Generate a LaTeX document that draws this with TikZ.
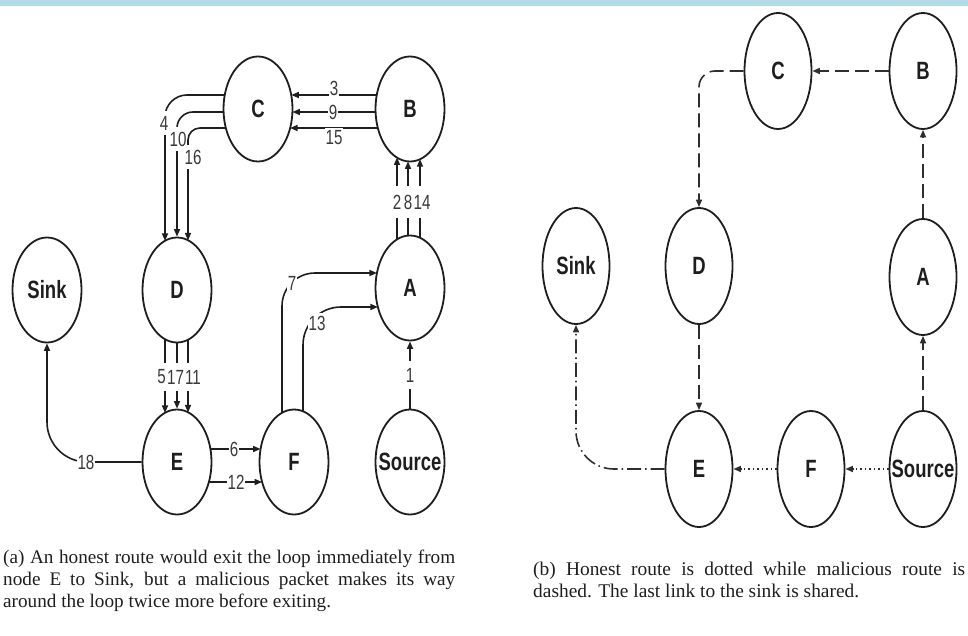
\documentclass[tikz,border=0pt]{standalone}
\usepackage{fontspec}
\setmainfont{Liberation Serif}
\newfontfamily\lblfont[FakeStretch=0.74]{Liberation Sans}
\usetikzlibrary{shapes.geometric,arrows.meta,calc}
\definecolor{band}{HTML}{B4DCE6}
\definecolor{ink}{HTML}{1E1E1E}
\definecolor{numink}{HTML}{3A3A3A}
\definecolor{rink}{HTML}{2E2E2E}
\newcommand\ctr[1]{\makebox[0pt]{#1}}

\begin{document}
\begin{tikzpicture}[x=1pt,y=-1pt,
  every node/.style={inner sep=0pt},
  nodeA/.style={ellipse, draw=ink, line width=1.8pt, minimum width=69pt,
    minimum height=105pt, text=ink, font=\lblfont\bfseries\fontsize{25}{25}\selectfont},
  nodeB/.style={nodeA, minimum width=67pt, minimum height=116pt},
  link/.style={draw=ink, line width=1.6pt, -{Triangle[length=7.5pt,width=6pt]}},
  num/.style={fill=white, text=numink, inner xsep=1pt, inner ysep=3pt,
    font=\lblfont\fontsize{20.5}{20.5}\selectfont},
  vnum/.style={num, inner ysep=7pt},
  mal/.style={link, draw=rink, dash pattern=on 14pt off 6pt},
  hon/.style={link, draw=rink, dash pattern=on 1.5pt off 3pt},
  shared/.style={link, draw=rink, dash pattern=on 14pt off 4pt on 1.5pt off 4pt},
]
\useasboundingbox (0,0) rectangle (968,636);
\fill[band] (0,0) rectangle (968,6);

% ---------- (a) packet loop with hop numbers ----------
\node[nodeA] (lsink) at (47,290) {\ctr{Sink}};
\node[nodeA] (ld) at (177,290) {\ctr{D}};
\node[nodeA] (lc) at (258,109) {\ctr{C}};
\node[nodeA] (lb) at (410,109) {\ctr{B}};
\node[nodeA] (la) at (410,288) {\ctr{A}};
\node[nodeA] (le) at (177,462) {\ctr{E}};
\node[nodeA] (lf) at (294,462) {\ctr{F}};
\node[nodeA] (lsrc) at (410,462) {\ctr{Source}};

% B -> C
\draw[link] ($(lb)+(-33.3,-14)$) -- ($(lc)+(33.3,-14)$);
\draw[link] ($(lb)+(-34.4,3)$) -- ($(lc)+(34.4,3)$);
\draw[link] ($(lb)+(-32.1,19)$) -- ($(lc)+(32.1,19)$);
% C -> D
\draw[link, rounded corners=22] ($(lc)+(-33.3,-14)$) -- ($(ld)+(-12,-195)$) -- ($(ld)+(-12,-49.1)$);
\draw[link, rounded corners=16] ($(lc)+(-34.4,3)$) -- ($(ld)+(0,-178)$) -- (ld.north);
\draw[link, rounded corners=12] ($(lc)+(-32.1,19)$) -- ($(ld)+(11,-162)$) -- ($(ld)+(11,-49.6)$);
% D -> E
\draw[link] ($(ld)+(-12,49.1)$) -- ($(le)+(-12,-49.1)$);
\draw[link] (ld.south) -- (le.north);
\draw[link] ($(ld)+(11,49.6)$) -- ($(le)+(11,-49.6)$);
% E -> Sink
\draw[link, rounded corners=40] (le.west) -- ($(lsink)+(0,172)$) -- (lsink.south);
% E -> F
\draw[link] ($(le)+(33.4,-13)$) -- ($(lf)+(-33.4,-13)$);
\draw[link] ($(le)+(31.9,20)$) -- ($(lf)+(-31.9,20)$);
% F -> A
\draw[link, rounded corners=33] ($(lf)+(-12,-49.1)$) -- ($(lf)+(-12,-189)$) -- ($(la)+(-33.1,-15)$);
\draw[link, rounded corners=38] ($(lf)+(9,-50.6)$) -- ($(lf)+(9,-155)$) -- ($(la)+(-32.1,19)$);
% Source -> A
\draw[link] (lsrc.north) -- (la.south);
% A -> B
\draw[link] ($(la)+(-13,-48.5)$) -- ($(lb)+(-13,48.5)$);
\draw[link] ($(la)+(-2,-52.4)$) -- ($(lb)+(-2,52.4)$);
\draw[link] ($(la)+(10,-50.2)$) -- ($(lb)+(10,50.2)$);

% hop numbers
\node[num] at (334,88) {3};
\node[num] at (333,112) {9};
\node[num] at (334,138) {15};
\node[vnum, inner ysep=5pt] at (164,123) {4};
\node[vnum, inner ysep=5pt] at (178,139) {10};
\node[vnum, inner ysep=5pt] at (193,157) {16};
\node[vnum] at (161.5,377) {5};
\node[vnum] at (175.5,377) {17};
\node[vnum] at (193,377) {11};
\node[num] at (86,462) {18};
\node[num] at (234,449) {6};
\node[num] at (236,482) {12};
\node[num] at (292,283) {7};
\node[num] at (317,323) {13};
\node[vnum] at (410,375) {1};
\node[vnum, inner ysep=9pt] at (397,202) {2};
\node[vnum, inner ysep=9pt] at (408,202) {8};
\node[vnum, inner ysep=9pt] at (422,202) {14};

\node[anchor=north west] (capa) at (3,550) {\parbox[t]{452pt}{\color{ink}\hyphenpenalty=10000
  \fontsize{19.2}{22}\selectfont (a) An honest route would exit the loop immediately from\linebreak
  node E to Sink, but a malicious packet makes its way\linebreak
  around the loop twice more before exiting.}};

% ---------- (b) honest vs malicious routes ----------
\node[nodeB] (rc) at (778,71) {\ctr{C}};
\node[nodeB] (rb) at (923,71) {\ctr{B}};
\node[nodeB] (rsink) at (576,266) {\ctr{Sink}};
\node[nodeB] (rd) at (699,266) {\ctr{D}};
\node[nodeB] (ra) at (923,277) {\ctr{A}};
\node[nodeB] (re) at (699,469) {\ctr{E}};
\node[nodeB] (rf) at (811,469) {\ctr{F}};
\node[nodeB] (rsrc) at (923,469) {\ctr{Source}};

\draw[mal] (rsrc.north) -- (ra.south);
\draw[mal] (ra.north) -- (rb.south);
\draw[mal] (rb.west) -- (rc.east);
\draw[mal, rounded corners=16] (rc.west) -- ($(rd)+(0,-195)$) -- (rd.north);
\draw[mal] (rd.south) -- (re.north);
\draw[hon] (rsrc.west) -- (rf.east);
\draw[hon] (rf.west) -- (re.east);
\draw[shared, rounded corners=38] (re.west) -- ($(rsink)+(0,203)$) -- (rsink.south);

\node[anchor=north west] (capb) at (533,562) {\parbox[t]{432pt}{\color{ink}\hyphenpenalty=10000
  \fontsize{19.4}{22}\selectfont (b) Honest route is dotted while malicious route is\linebreak
  dashed. The last link to the sink is shared.}};
\end{tikzpicture}
\end{document}
